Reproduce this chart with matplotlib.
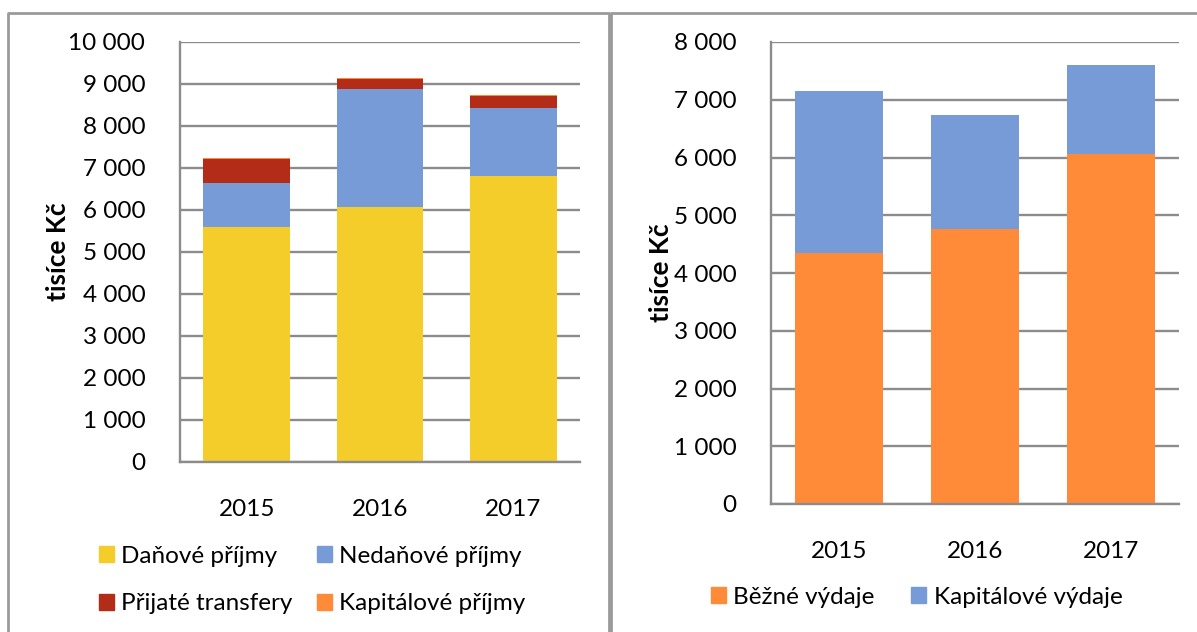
import matplotlib.pyplot as plt
from matplotlib.lines import Line2D
from matplotlib.patches import Patch
from matplotlib.ticker import FuncFormatter, MultipleLocator

plt.rcParams["font.family"] = ["Lato", "DejaVu Sans"]

YEARS = ["2015", "2016", "2017"]

# příjmy (tisíce Kč)
DANOVE = [5600, 6070, 6810]
NEDANOVE = [1040, 2800, 1620]
TRANSFERY = [580, 250, 290]
KAPITALOVE_PRIJMY = [15, 12, 12]

# výdaje (tisíce Kč)
BEZNE = [4340, 4770, 6060]
KAPITALOVE_VYDAJE = [2810, 1970, 1550]

YELLOW = "#F4CD2B"
BLUE = "#779BD7"
RED = "#B22C18"
ORANGE = "#FF8A38"
GRID = "#8C8C8C"
BORDER = "#9A9A9A"

W, H = 1197, 632
FS = 17.5


def fmt_thousands(v, _pos):
    return f"{int(round(v)):,}".replace(",", " ")


def style_axis(ax, ymax, step):
    ax.set_xlim(-0.5, 2.5)
    ax.set_ylim(0, ymax)
    ax.yaxis.set_major_locator(MultipleLocator(step))
    ax.yaxis.set_major_formatter(FuncFormatter(fmt_thousands))
    ax.grid(axis="y", color=GRID, linewidth=1.7)
    ax.set_axisbelow(True)
    for side in ["top", "right"]:
        ax.spines[side].set_visible(False)
    for side in ["left", "bottom"]:
        ax.spines[side].set_color(GRID)
        ax.spines[side].set_linewidth(1.7)
    ax.tick_params(axis="y", length=0, pad=25, labelsize=FS)
    ax.tick_params(axis="x", length=0, pad=27, labelsize=FS)
    ax.set_ylabel("tisíce Kč", fontsize=19, fontweight="bold")


def stacked(ax, series, colors):
    x = list(range(len(YEARS)))
    bottom = [0] * len(YEARS)
    for vals, col in zip(series, colors):
        ax.bar(x, vals, 0.65, bottom=bottom, color=col, linewidth=0)
        bottom = [b + v for b, v in zip(bottom, vals)]
    ax.set_xticks(x)
    ax.set_xticklabels(YEARS)


fig = plt.figure(figsize=(W / 100, H / 100), dpi=100)

# rámečky obou grafů
for xs, ys in [
    ([8, 8, 609, 609], [H, 13, 13, H]),
    ([611, 611, W + 5], [H, 13, 13]),
]:
    fig.add_artist(Line2D([x / W for x in xs], [1 - y / H for y in ys],
                          color=BORDER, linewidth=2, transform=fig.transFigure))

# levý graf - příjmy
ax1 = fig.add_axes([180 / W, 1 - 462 / H, 400 / W, 420 / H])
stacked(ax1, [DANOVE, NEDANOVE, TRANSFERY, KAPITALOVE_PRIJMY],
        [YELLOW, BLUE, RED, ORANGE])
style_axis(ax1, 10000, 1000)
ax1.yaxis.set_label_coords(-0.275, 0.5)

# pravý graf - výdaje
ax2 = fig.add_axes([771 / W, 1 - 504 / H, 408 / W, 462 / H])
stacked(ax2, [BEZNE, KAPITALOVE_VYDAJE], [ORANGE, BLUE])
style_axis(ax2, 8000, 1000)
ax2.yaxis.set_label_coords(-0.24, 0.5)

leg_kw = dict(frameon=False, fontsize=FS, handlelength=0.62, handleheight=0.62,
              handletextpad=0.3, borderpad=0, borderaxespad=0,
              loc="center left")

h1 = [Patch(color=YELLOW), Patch(color=BLUE), Patch(color=RED), Patch(color=ORANGE)]
l1 = ["Daňové příjmy", "Nedaňové příjmy", "Přijaté transfery", "Kapitálové příjmy"]
# pořadí pro ncol=2 (plní se po sloupcích)
order = [0, 2, 1, 3]
fig.legend([h1[i] for i in order], [l1[i] for i in order], ncol=2,
           bbox_to_anchor=(99 / W, 1 - 580 / H), columnspacing=1.0,
           labelspacing=1.1, **leg_kw)

h2 = [Patch(color=ORANGE), Patch(color=BLUE)]
l2 = ["Běžné výdaje", "Kapitálové výdaje"]
fig.legend(h2, l2, ncol=2, bbox_to_anchor=(711 / W, 1 - 597 / H),
           columnspacing=1.5, **leg_kw)

fig.savefig("out.png", dpi=100)
